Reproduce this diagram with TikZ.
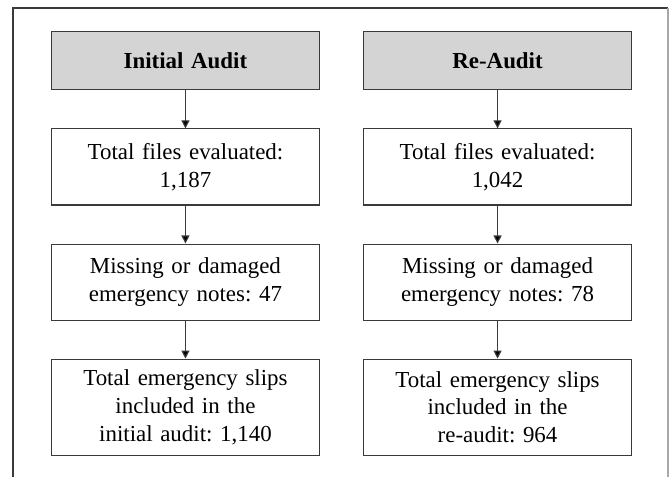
\documentclass[tikz,border=0pt]{standalone}
\usepackage{fontspec}
\setmainfont{Liberation Serif}
\usetikzlibrary{matrix,arrows.meta}
\definecolor{boxline}{HTML}{3A3A3A}
\definecolor{headgray}{HTML}{D4D4D4}
\definecolor{framelight}{HTML}{A8A8A8}
\frenchspacing

\begin{document}
\begin{tikzpicture}[x=1bp,y=1bp,
	box/.style={draw=boxline, line width=1.1bp, text width=268bp, inner xsep=0pt, inner ysep=2bp,
		align=center, anchor=center, font=\fontsize{23}{28}\selectfont},
	head/.style={fill=headgray, font=\fontsize{23}{28}\selectfont\bfseries, minimum height=58bp},
	flow/.style={draw=boxline, line width=1.1bp, -{Triangle[width=8bp,length=8bp]}}]
	\useasboundingbox (0,0) rectangle (670,-477);
	% outer frame, open at the foot
	\draw[boxline, line width=1.3bp] (13,-477) |- (668,-8);
	\draw[framelight, line width=1.3bp] (668,-8) -- (668,-477);
	\matrix[matrix of nodes, name=m, row sep=38bp, column sep=43bp, nodes={box},
		row 1/.style={nodes={head}},
		row 2/.style={nodes={minimum height=76bp}},
		row 3/.style={nodes={minimum height=76bp}},
		row 4/.style={nodes={minimum height=96bp}}] at (341.5,-243.5) {
	Initial Audit &
	Re-Audit \\
	{Total files evaluated:\\1,187} &
	{Total files evaluated:\\1,042} \\
	{Missing or damaged\\emergency notes: 47} &
	{Missing or damaged\\emergency notes: 78} \\
	{Total emergency slips\\included in the\\initial audit: 1,140} &
	{Total emergency slips\\included in the\\re-audit: 964} \\ };
	\path[flow]
	(m-1-1) edge (m-2-1)
	(m-2-1) edge (m-3-1)
	(m-3-1) edge (m-4-1)
	(m-1-2) edge (m-2-2)
	(m-2-2) edge (m-3-2)
	(m-3-2) edge (m-4-2);
\end{tikzpicture}
\end{document}
